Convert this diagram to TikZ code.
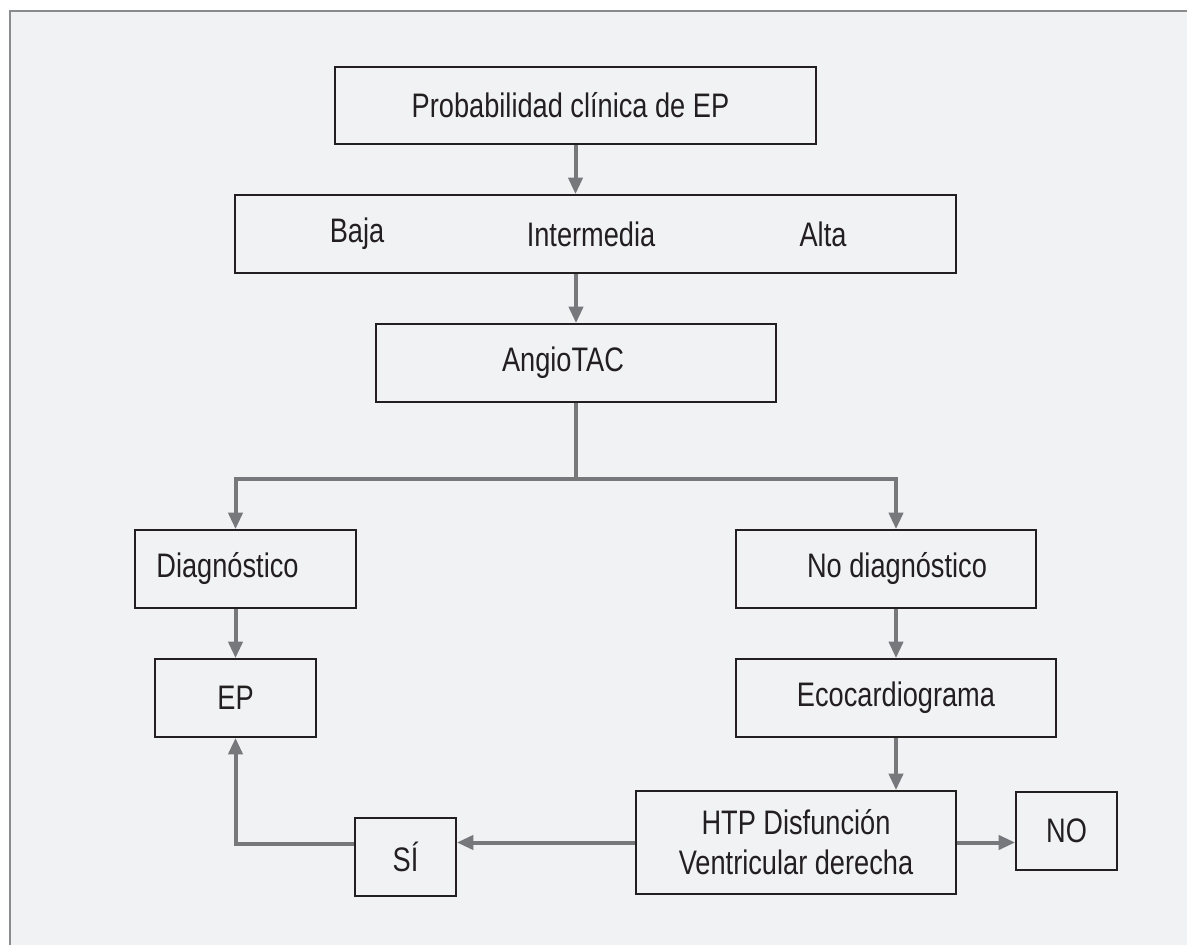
\documentclass[tikz,border=0pt]{standalone}
\usepackage{fontspec}
\setmainfont{Liberation Sans}[FakeStretch=0.8]
\usepackage{tikz}
\usetikzlibrary{positioning,arrows.meta,calc}
\definecolor{panel}{HTML}{F1F2F4}
\definecolor{rim}{HTML}{8A8B8D}
\definecolor{ink}{HTML}{231F20}
\definecolor{flowc}{HTML}{77787B}

\begin{document}
\begin{tikzpicture}[x=0.5pt,y=-0.5pt,font=\fontsize{17}{20}\selectfont,text=ink,
  box/.style={draw=ink,line width=0.8pt,align=center,inner sep=2pt,minimum height=39pt},
  link/.style={draw=flowc,line width=2pt},
  flow/.style={link,-{Triangle[length=8.3pt,width=7pt]}}]
\path[use as bounding box,clip] (0,0) rectangle (1187,945);
\draw[rim,fill=panel,line width=1pt] (10,11) rectangle (1200,960);
% cajas
\node[box,minimum width=240.5pt,minimum height=38.5pt] (prob) at (575.5,105.5) {Probabilidad clínica de EP\hspace*{5pt}};
\node[box,minimum width=360.5pt] (nivel) at (595.5,234) {};
\node (baja) at (357,234) {Baja};
\node (intermedia) at (591,234) {Intermedia};
\node (alta) at (823,234) {Alta};
\node[box,minimum width=200pt] (angio) at (576,363) {AngioTAC\hspace*{13pt}};
\coordinate (split) at (576,479);
\node[box,minimum width=110.5pt] (diag) at (245.5,569) {Diagnóstico\hspace*{18pt}};
\node[box,minimum width=150pt] (nodiag) at (886,569) {\hspace*{11pt}No diagnóstico};
\node[box,minimum width=80.5pt] (ep) at (235.5,698) {EP};
\node[box,minimum width=160pt] (eco) at (896,698) {Ecocardiograma};
\node[box,minimum width=160pt,minimum height=51.5pt] (htp) at (796,842.5) {HTP Disfunción\\Ventricular derecha};
\node[box,minimum width=50.5pt] (no) at (1066.5,831) {NO};
\node[box,minimum width=50.5pt] (si) at (405.5,857) {SÍ};
% flechas
\draw[flow] (prob.south) -- (prob.south |- nivel.north);
\draw[flow] (angio.north |- nivel.south) -- (angio.north);
\draw[link] (angio.south) -- (split);
\draw[flow] (split) -| (ep |- diag.north);
\draw[flow] (split) -| (eco |- nodiag.north);
\draw[flow] (ep |- diag.south) -- (ep.north);
\draw[flow] (eco |- nodiag.south) -- (eco.north);
\draw[flow] (eco.south) -- (eco.south |- htp.north);
\draw[flow] (htp.west) -- (htp.west -| si.east);
\draw[flow] ([yshift=6.5pt]si.west) -| (ep.south);
\draw[flow] (htp.east) -- (htp.east -| no.west);
\end{tikzpicture}
\end{document}
